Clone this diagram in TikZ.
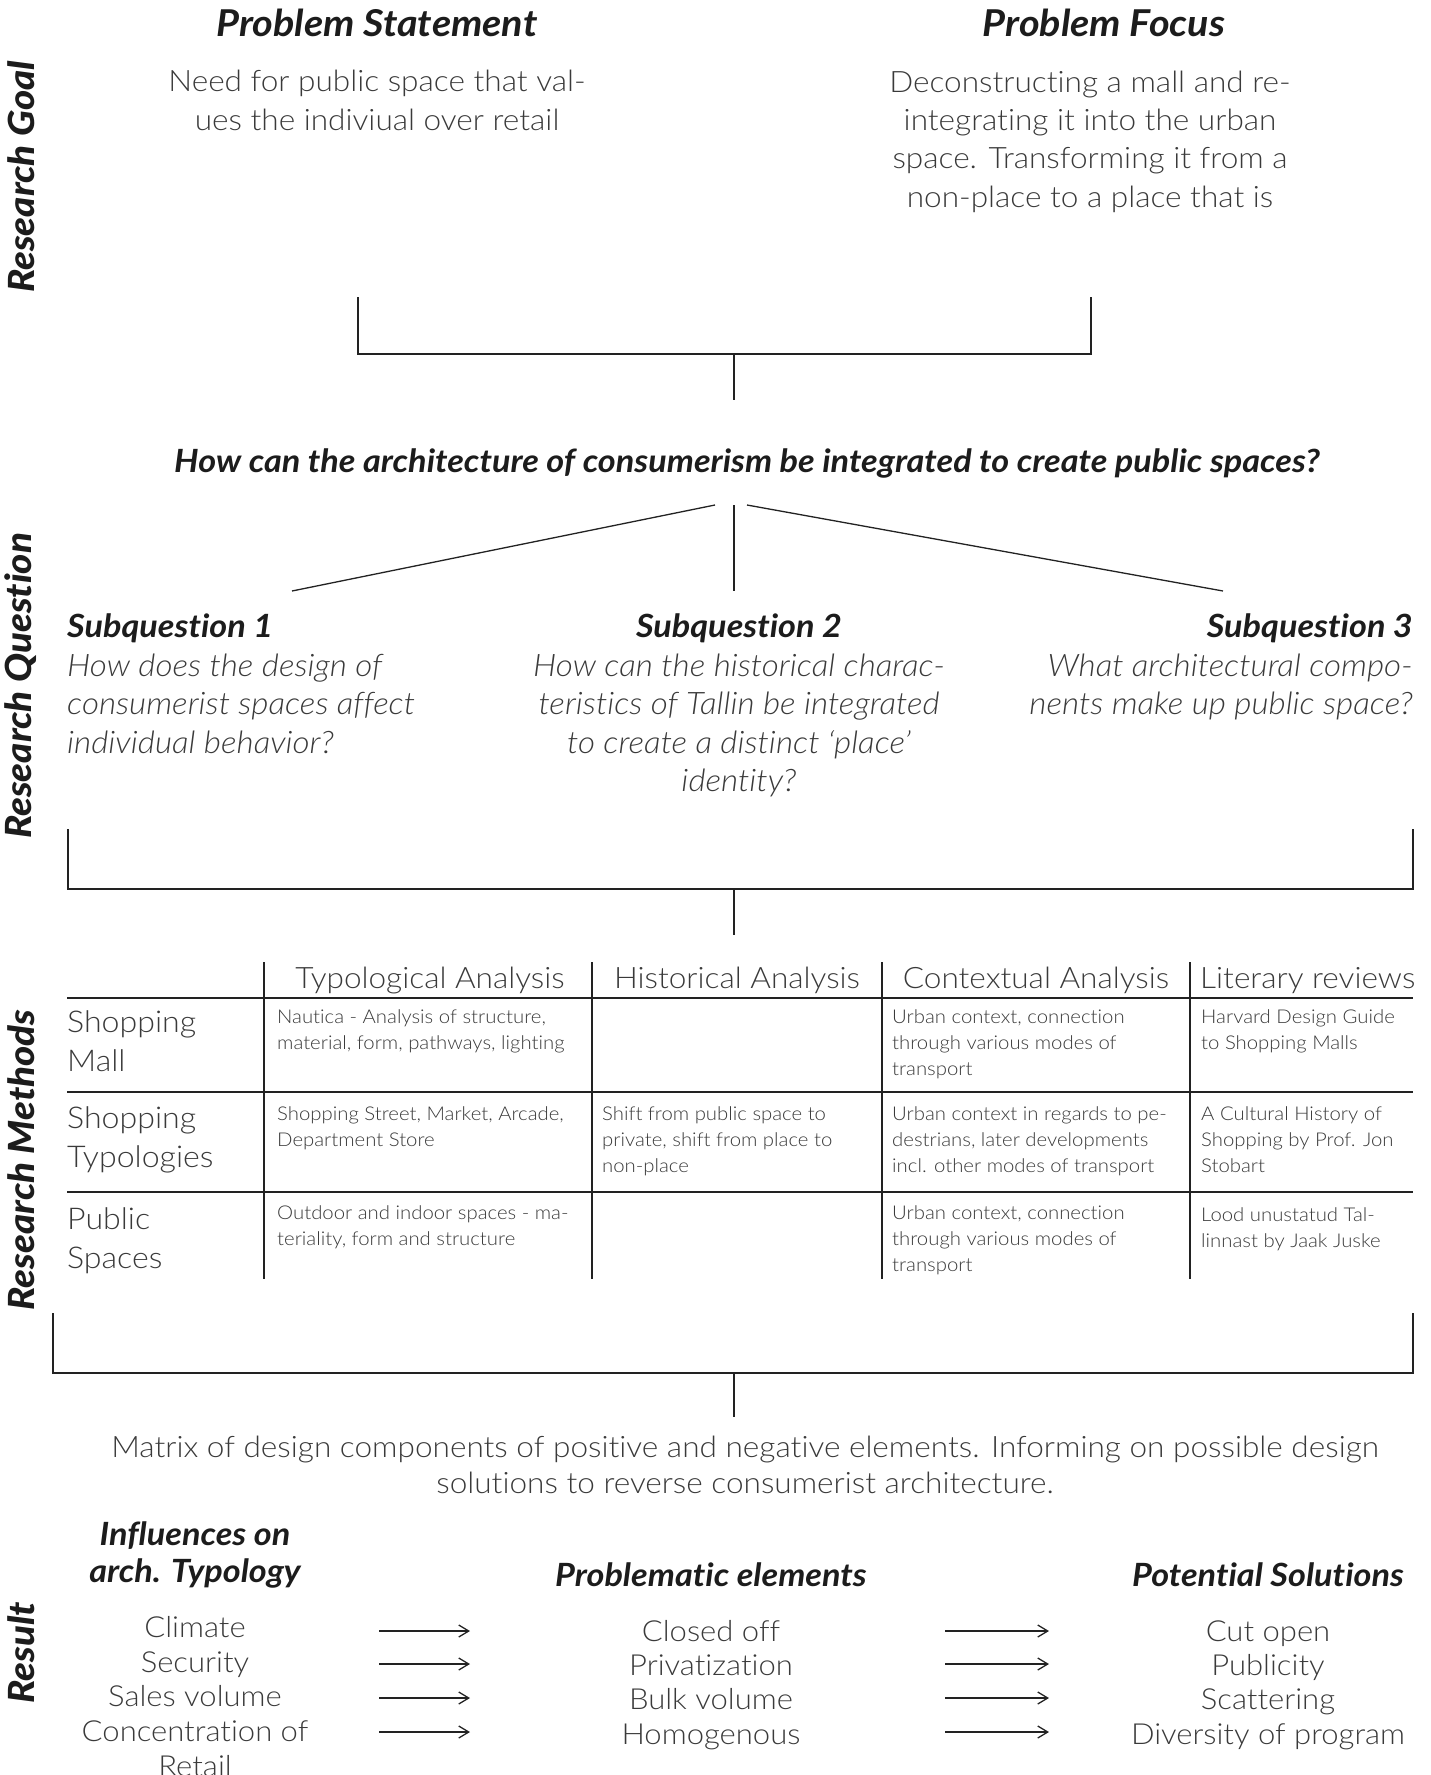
\documentclass[tikz,border=0pt]{standalone}
\usepackage{fontspec}
\setmainfont{Lato}[UprightFont=* Light, ItalicFont=* Light Italic, BoldFont=* Bold, BoldItalicFont=* Bold Italic, FakeStretch=1.07, Ligatures=NoCommon]
\newfontfamily\heavyfont{Lato Black}[FakeStretch=1.07, Ligatures=NoCommon]
\usetikzlibrary{arrows.meta}
\definecolor{ink}{HTML}{1C1C1C}
\definecolor{txt}{HTML}{3A3A3A}
\definecolor{lin}{HTML}{222222}
\tikzset{
  head/.style={font=\fontsize{32}{37}\selectfont\bfseries\itshape, text=ink, inner sep=0pt, anchor=base},
  tophead/.style={font=\fontsize{37}{40}\selectfont\bfseries\itshape, text=ink, inner sep=0pt, anchor=base},
  vlabel/.style={font=\fontsize{36}{40}\selectfont\heavyfont\itshape, text=ink, inner sep=0pt, rotate=90, anchor=center},
  body/.style={font=\fontsize{29.5}{38.3}\selectfont, text=txt, inner sep=0pt, anchor=base},
  sbody/.style={font=\fontsize{31}{38.5}\selectfont\itshape, text=txt, inner sep=0pt, anchor=base},
  item/.style={font=\fontsize{29}{34.4}\selectfont, text=txt, inner sep=0pt, anchor=base, align=center},
  cell/.style={font=\fontsize{19}{26.4}\selectfont, text=txt, inner sep=0pt, anchor=base west, align=left},
  rowlab/.style={font=\fontsize{30}{39}\selectfont, text=txt, inner sep=0pt, anchor=base west, align=left},
  colhead/.style={font=\fontsize{29.5}{34}\selectfont, text=txt, inner sep=0pt, anchor=base},
  ln/.style={draw=lin, line width=1.6pt},
  tl/.style={draw=lin, line width=1.3pt},
  arr/.style={draw=lin, line width=1.3pt, -{Straight Barb[length=10pt, width=12pt, line width=1.3pt]}},
}
\begin{document}
\begin{tikzpicture}[x=1pt, y=-1pt]
\useasboundingbox (0,0) rectangle (1431,1775);

% vertical section labels
\node[vlabel] (vgoal) at (21,177) {Research Goal};
\node[vlabel] (vquest) at (21,686) {Research Question};
\node[vlabel] (vmeth) at (21,1160) {Research Methods};
\node[vlabel] (vres) at (21,1653) {Result};

% Research goal
\node[tophead] (psh) at (377,36) {Problem Statement};
\node[body, align=center] (psb) at (377,130) {Need for public space that val-\\ues the indiviual over retail};
\node[tophead] (pfh) at (1104,36) {Problem Focus};
\node[body, align=center] (pfb) at (1090,207) {Deconstructing a mall and re-\\integrating it into the urban\\space. Transforming it from a\\non-place to a place that is};

% bracket 1
\coordinate (b1l) at (358,297);
\coordinate (b1r) at (1091,297);
\coordinate (b1m) at (734,354);
\coordinate (b1s) at (734,400);
\draw[ln] (b1l) |- (b1m) -| (b1r);
\draw[ln] (b1m) -- (b1s);

% main question
\node[head] (mq) at (747,472.5) {How can the architecture of consumerism be integrated to create public spaces?};

% fan lines
\coordinate (f1s) at (715,505);
\coordinate (f1e) at (292,591);
\coordinate (f2s) at (734,505);
\coordinate (f2e) at (734,591);
\coordinate (f3s) at (747,505);
\coordinate (f3e) at (1223,591);
\draw[tl] (f1s) -- (f1e);
\draw[tl] (f2s) -- (f2e);
\draw[tl] (f3s) -- (f3e);

% subquestions
\node[head, anchor=base west] (s1h) at (67,637.5) {Subquestion 1};
\node[sbody, anchor=base west, align=left] (s1b) at (67,753) {How does the design of\\consumerist spaces affect\\individual behavior?};
\node[head] (s2h) at (739,637.5) {Subquestion 2};
\node[sbody, align=center] (s2b) at (739,791.5) {How can the historical charac-\\teristics of Tallin be integrated\\to create a distinct `place'\\identity?};
\node[head, anchor=base east] (s3h) at (1413,637.5) {Subquestion 3};
\node[sbody, anchor=base east, align=right] (s3b) at (1413,714.5) {What architectural compo-\\nents make up public space?};

% bracket 2
\coordinate (b2l) at (68,829);
\coordinate (b2r) at (1413,829);
\coordinate (b2m) at (734,889);
\coordinate (b2s) at (734,935);
\draw[ln] (b2l) |- (b2m) -| (b2r);
\draw[ln] (b2m) -- (b2s);

% table
\draw[tl] (67,998) -- (1413,998);
\draw[tl] (67,1092) -- (1413,1092);
\draw[tl] (67,1192) -- (1413,1192);
\draw[tl] (264,962) -- (264,1279);
\draw[tl] (592,962) -- (592,1279);
\draw[tl] (882,962) -- (882,1279);
\draw[tl] (1190,962) -- (1190,1279);

\node[colhead] (ch1) at (430,988.6) {Typological Analysis};
\node[colhead] (ch2) at (737,988.6) {Historical Analysis};
\node[colhead] (ch3) at (1036,988.6) {Contextual Analysis};
\node[colhead, anchor=base west] (ch4) at (1200,988.6) {Literary reviews};

\node[rowlab] (r1) at (67,1071) {Shopping\\Mall};
\node[rowlab] (r2) at (67,1167) {Shopping\\Typologies};
\node[rowlab] (r3) at (67,1268) {Public\\Spaces};

\node[cell] (c11) at (277,1049.4) {Nautica - Analysis of structure,\\material, form, pathways, lighting};
\node[cell] (c13) at (892,1075.8) {Urban context, connection\\through various modes of\\transport};
\node[cell] (c14) at (1201,1049.4) {Harvard Design Guide\\to Shopping Malls};
\node[cell] (c21) at (277,1146.4) {Shopping Street, Market, Arcade,\\Department Store};
\node[cell] (c22) at (602,1172.8) {Shift from public space to\\private, shift from place to\\non-place};
\node[cell] (c23) at (892,1172.8) {Urban context in regards to pe-\\destrians, later developments\\incl. other modes of transport};
\node[cell] (c24) at (1201,1172.8) {A Cultural History of\\Shopping by Prof. Jon\\Stobart};
\node[cell] (c31) at (277,1245.4) {Outdoor and indoor spaces - ma-\\teriality, form and structure};
\node[cell] (c33) at (892,1271.8) {Urban context, connection\\through various modes of\\transport};
\node[cell] (c34) at (1201,1247.4) {Lood unustatud Tal-\\linnast by Jaak Juske};

% bracket 3
\coordinate (b3l) at (53,1313);
\coordinate (b3r) at (1413,1313);
\coordinate (b3m) at (734,1373);
\coordinate (b3s) at (734,1417);
\draw[ln] (b3l) |- (b3m) -| (b3r);
\draw[ln] (b3m) -- (b3s);

\node[body, align=center, font=\fontsize{29.5}{36}\selectfont] (res) at (745,1493) {Matrix of design components of positive and negative elements. Informing on possible design\\solutions to reverse consumerist architecture.};

% result columns
\node[head, align=center, font=\fontsize{32}{37}\selectfont\bfseries\itshape] (rh1) at (195,1582.5) {Influences on\\arch. Typology};
\node[head] (rh2) at (711,1586.5) {Problematic elements};
\node[head] (rh3) at (1268,1586.5) {Potential Solutions};

\node[item] (i1) at (195,1637.4) {Climate};
\node[item] (i2) at (195,1672) {Security};
\node[item] (i3) at (195,1706.5) {Sales volume};
\node[item] (i4) at (195,1776) {Concentration of\\Retail};

\node[item] (p1) at (711,1641.4) {Closed off};
\node[item] (p2) at (711,1675.4) {Privatization};
\node[item] (p3) at (711,1709.4) {Bulk volume};
\node[item] (p4) at (711,1744.4) {Homogenous};

\node[item] (q1) at (1268,1641.4) {Cut open};
\node[item] (q2) at (1268,1675.4) {Publicity};
\node[item] (q3) at (1268,1709.4) {Scattering};
\node[item] (q4) at (1268,1744.4) {Diversity of program};

% arrows
\coordinate (a1s) at (379,1631); \coordinate (a1e) at (470,1631);
\coordinate (a2s) at (379,1664); \coordinate (a2e) at (470,1664);
\coordinate (a3s) at (379,1698); \coordinate (a3e) at (470,1698);
\coordinate (a4s) at (379,1732); \coordinate (a4e) at (470,1732);
\coordinate (c1s) at (945,1631); \coordinate (c1e) at (1049,1631);
\coordinate (c2s) at (945,1664); \coordinate (c2e) at (1049,1664);
\coordinate (c3s) at (945,1698); \coordinate (c3e) at (1049,1698);
\coordinate (c4s) at (945,1732); \coordinate (c4e) at (1049,1732);
\draw[arr] (a1s) -- (a1e);
\draw[arr] (a2s) -- (a2e);
\draw[arr] (a3s) -- (a3e);
\draw[arr] (a4s) -- (a4e);
\draw[arr] (c1s) -- (c1e);
\draw[arr] (c2s) -- (c2e);
\draw[arr] (c3s) -- (c3e);
\draw[arr] (c4s) -- (c4e);
\end{tikzpicture}
\end{document}
